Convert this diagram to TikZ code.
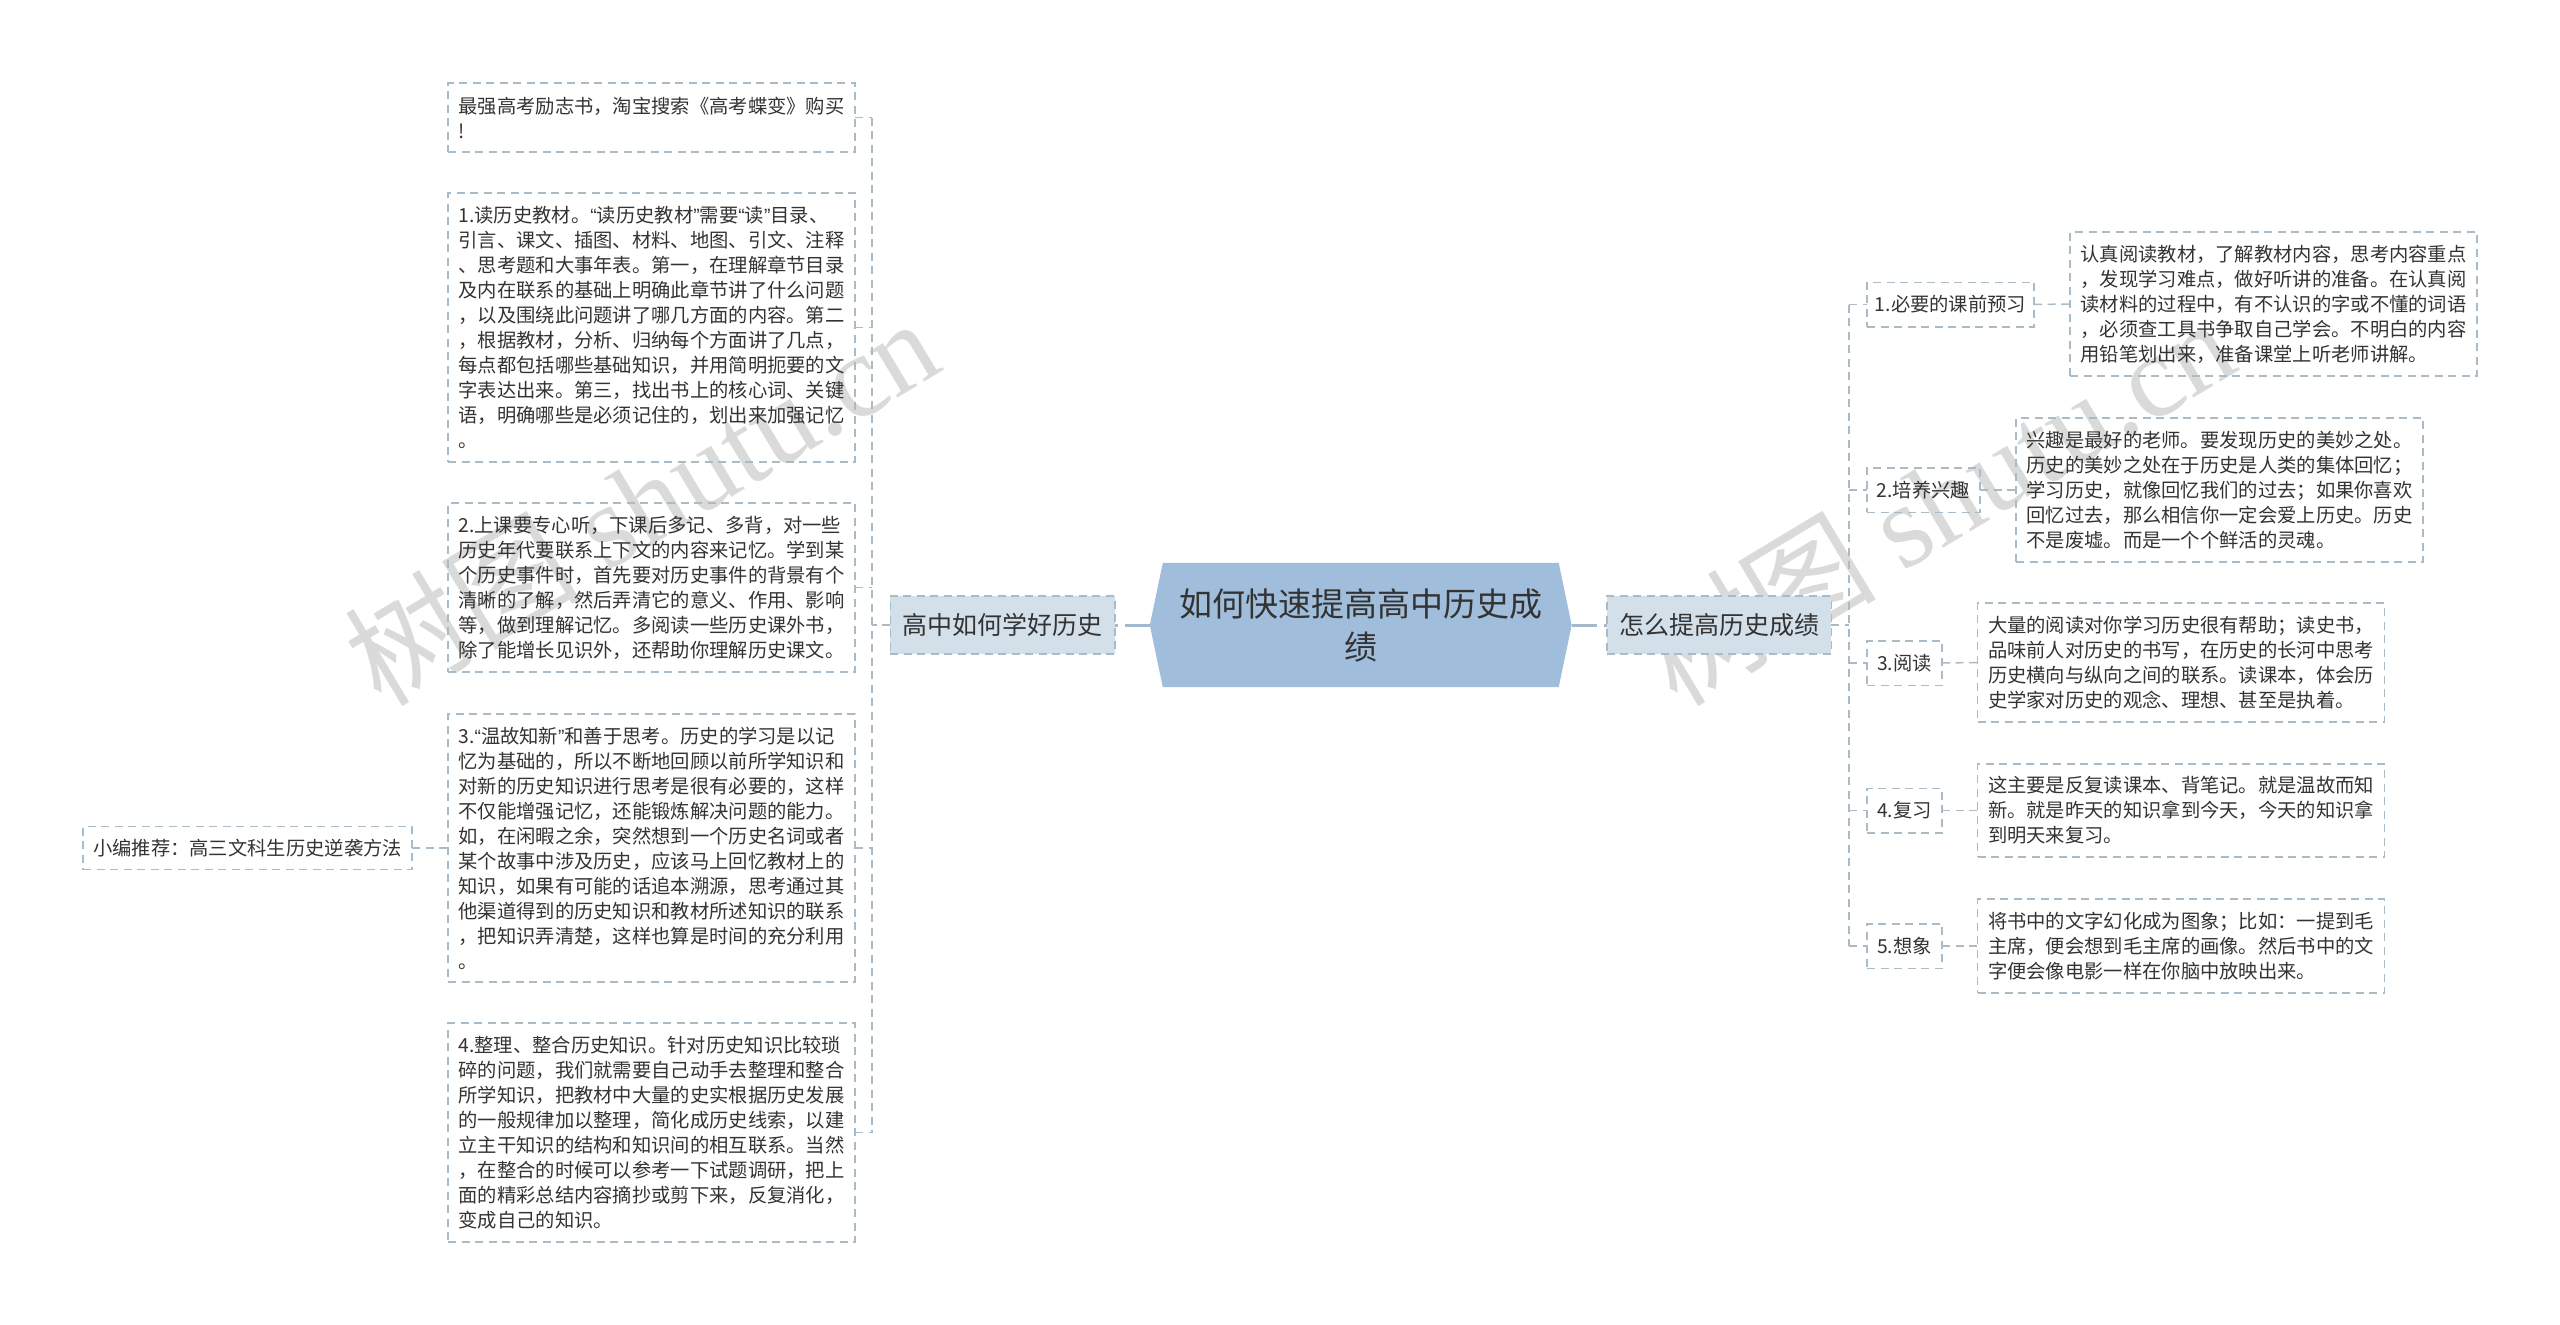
\documentclass[tikz,border=0pt]{standalone}
\usepackage{fontspec}
\setmainfont{Noto Sans CJK SC}
\newfontfamily\markserif{Liberation Serif}
\newfontfamily\quotesans{Liberation Sans}
\newcommand{\qo}{{\quotesans “}}
\newcommand{\qc}{{\quotesans ”}}
\usetikzlibrary{backgrounds}
\definecolor{linecol}{HTML}{A9BBC7}
\definecolor{mainlinecol}{HTML}{A3B9CE}
\definecolor{rootcol}{HTML}{A0BEDB}
\definecolor{branchcol}{HTML}{D3E0EA}
\definecolor{inkcol}{HTML}{333333}
\definecolor{markcol}{HTML}{DADADA}
\tikzset{
	x=1pt,y=-1pt,
	box/.style={draw=linecol,line width=1.5pt,dash pattern=on 8pt off 5.5pt,outer sep=0pt,text=inkcol},
	note/.style={box,text width=386pt,inner xsep=10.5pt,inner ysep=0pt,align=left,font=\fontsize{19.3}{25}\selectfont},
	shortnote/.style={box,inner sep=0pt,align=center,font=\fontsize{19.3}{25}\selectfont,minimum height=44.5pt},
	branch/.style={box,fill=branchcol,inner sep=0pt,minimum width=224.5pt,minimum height=58pt,font=\fontsize{25}{30}\selectfont},
	link/.style={draw=linecol,line width=1.5pt,dash pattern=on 8pt off 5.5pt},
	mainlink/.style={draw=mainlinecol,line width=3pt,dash pattern=on 25pt off 7pt},
	wmark/.style={text=markcol,rotate=31,inner sep=0pt,font=\fontsize{118}{118}\selectfont}
}
\begin{document}
\begin{tikzpicture}
	\useasboundingbox (0,0) rectangle (2560,1325);
	\node[inner sep=0pt,text=inkcol,align=center,minimum width=421.5pt,minimum height=124pt,font=\fontsize{33}{43}\selectfont] (root) at (1360.75,625) {如何快速提高高中历史成\\绩};
	\begin{scope}[on background layer]
		\node[wmark] (markL) at (641,500) {树图 {\markserif shutu.cn}};
		\node[wmark] (markR) at (1937,500) {树图 {\markserif shutu.cn}};
		\fill[rootcol] (root.west)--([xshift=13pt]root.north west)--([xshift=-13pt]root.north east)--(root.east)--([xshift=-13pt]root.south east)--([xshift=13pt]root.south west)--cycle;
	\end{scope}
	\node[branch] (learn) at (1002.5,625) {高中如何学好历史};
	\node[branch] (raise) at (1719,625) {怎么提高历史成绩};
	\coordinate (spineL) at (872,625);
	\coordinate (spineR) at (1849,625);
	\node[note,minimum height=69pt] (buy) at (651.5,117.5) {最强高考励志书，淘宝搜索《高考蝶变》购买\\!};
	\node[note,minimum height=269pt] (read) at (651.5,327.5) {1.读历史教材。\qo 读历史教材\qc 需要\qo 读\qc 目录、\\引言、课文、插图、材料、地图、引文、注释\\、思考题和大事年表。第一，在理解章节目录\\及内在联系的基础上明确此章节讲了什么问题\\，以及围绕此问题讲了哪几方面的内容。第二\\，根据教材，分析、归纳每个方面讲了几点，\\每点都包括哪些基础知识，并用简明扼要的文\\字表达出来。第三，找出书上的核心词、关键\\语，明确哪些是必须记住的，划出来加强记忆\\。};
	\node[note,minimum height=169pt] (listen) at (651.5,587.5) {2.上课要专心听，下课后多记、多背，对一些\\历史年代要联系上下文的内容来记忆。学到某\\个历史事件时，首先要对历史事件的背景有个\\清晰的了解，然后弄清它的意义、作用、影响\\等，做到理解记忆。多阅读一些历史课外书，\\除了能增长见识外，还帮助你理解历史课文。};
	\node[note,minimum height=268pt] (review) at (651.5,848) {3.\qo 温故知新\qc 和善于思考。历史的学习是以记\\忆为基础的，所以不断地回顾以前所学知识和\\对新的历史知识进行思考是很有必要的，这样\\不仅能增强记忆，还能锻炼解决问题的能力。\\如，在闲暇之余，突然想到一个历史名词或者\\某个故事中涉及历史，应该马上回忆教材上的\\知识，如果有可能的话追本溯源，思考通过其\\他渠道得到的历史知识和教材所述知识的联系\\，把知识弄清楚，这样也算是时间的充分利用\\。};
	\node[note,minimum height=219pt] (sort) at (651.5,1132.5) {4.整理、整合历史知识。针对历史知识比较琐\\碎的问题，我们就需要自己动手去整理和整合\\所学知识，把教材中大量的史实根据历史发展\\的一般规律加以整理，简化成历史线索，以建\\立主干知识的结构和知识间的相互联系。当然\\，在整合的时候可以参考一下试题调研，把上\\面的精彩总结内容摘抄或剪下来，反复消化，\\变成自己的知识。};
	\node[shortnote,minimum width=329pt,minimum height=43pt] (tip) at (247.5,848) {小编推荐：高三文科生历史逆袭方法};
	\node[shortnote,minimum width=167pt] (pre) at (1950.5,304.5) {1.必要的课前预习};
	\node[shortnote,minimum width=113pt] (joy) at (1923.5,490) {2.培养兴趣};
	\node[shortnote,minimum width=75pt] (book) at (1904.5,663) {3.阅读};
	\node[shortnote,minimum width=75pt] (redo) at (1904.5,810.5) {4.复习};
	\node[shortnote,minimum width=75pt] (image) at (1904.5,946) {5.想象};
	\node[note,minimum height=144pt] (preT) at (2273.5,304) {认真阅读教材，了解教材内容，思考内容重点\\，发现学习难点，做好听讲的准备。在认真阅\\读材料的过程中，有不认识的字或不懂的词语\\，必须查工具书争取自己学会。不明白的内容\\用铅笔划出来，准备课堂上听老师讲解。};
	\node[note,minimum height=144pt] (joyT) at (2219.5,490) {兴趣是最好的老师。要发现历史的美妙之处。\\历史的美妙之处在于历史是人类的集体回忆；\\学习历史，就像回忆我们的过去；如果你喜欢\\回忆过去，那么相信你一定会爱上历史。历史\\不是废墟。而是一个个鲜活的灵魂。};
	\node[note,minimum height=119pt] (bookT) at (2181,662.5) {大量的阅读对你学习历史很有帮助；读史书，\\品味前人对历史的书写，在历史的长河中思考\\历史横向与纵向之间的联系。读课本，体会历\\史学家对历史的观念、理想、甚至是执着。};
	\node[note,minimum height=93pt] (redoT) at (2181,810.5) {这主要是反复读课本、背笔记。就是温故而知\\新。就是昨天的知识拿到今天，今天的知识拿\\到明天来复习。};
	\node[note,minimum height=94pt] (imageT) at (2181,946) {将书中的文字幻化成为图象；比如：一提到毛\\主席，便会想到毛主席的画像。然后书中的文\\字便会像电影一样在你脑中放映出来。};
	\draw[mainlink] (root.west)--(learn.east);
	\draw[mainlink] (root.east)--(raise.west);
	\draw[link] (learn.west)--(spineL);
	\draw[link] (raise.east)--(spineR);
	\draw[link] (spineL |- buy.east)--(spineL |- sort.east);
	\draw[link] (spineR |- pre.west)--(spineR |- image.west);
	\foreach \n in {buy,read,listen,review,sort}
		\draw[link] (\n.east)--(spineL |- \n.east);
	\foreach \n in {pre,joy,book,redo,image}{
		\draw[link] (spineR |- \n.west)--(\n.west);
		\draw[link] (\n.east)--(\n T.west);
	}
	\draw[link] (tip.east)--(review.west);
\end{tikzpicture}
\end{document}
